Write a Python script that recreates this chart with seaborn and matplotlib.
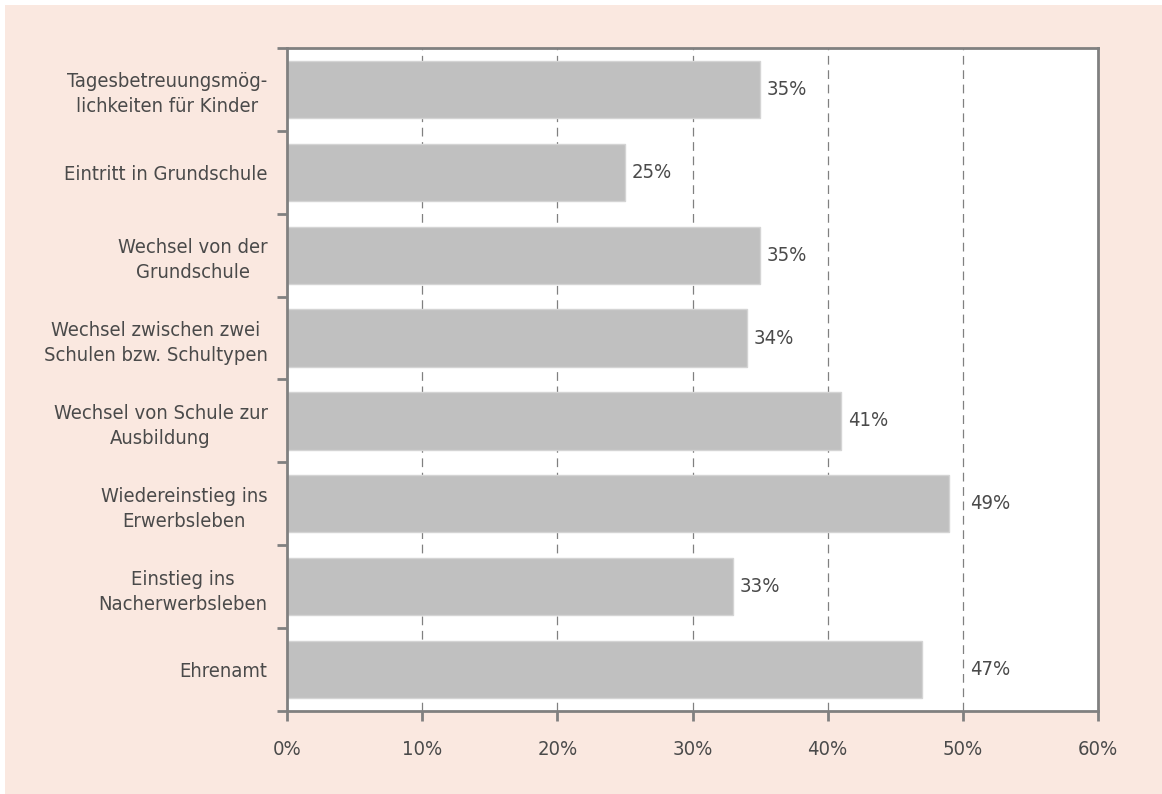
import numpy as np
import pandas as pd
import matplotlib.pyplot as plt
import matplotlib.patches as mpatches
import seaborn as sns

# Data
categories = [
    "Tagesbetreuungsmög-\nlichkeiten für Kinder",
    "Eintritt in Grundschule",
    "Wechsel von der\nGrundschule",
    "Wechsel zwischen zwei\nSchulen bzw. Schultypen",
    "Wechsel von Schule zur\nAusbildung",
    "Wiedereinstieg ins\nErwerbsleben",
    "Einstieg ins\nNacherwerbsleben",
    "Ehrenamt",
]
values = [35, 25, 35, 34, 41, 49, 33, 47]
x_ticks = [0, 10, 20, 30, 40, 50, 60]

df = pd.DataFrame({"Kategorie": categories, "Anteil": values})

sns.set_style("white")
plt.rcParams['font.family'] = ['DejaVu Sans']
plt.rcParams['font.stretch'] = 'condensed'

text_col = "#4a4a4a"
spine_col = "#808080"
panel_col = "#fae8e0"

fig = plt.figure(figsize=(11.62, 7.94), dpi=100, facecolor="white")
# peach panel behind the chart
fig.patches.append(mpatches.Rectangle((5 / 1162, 0), 1, 1 - 5 / 794,
                                      transform=fig.transFigure,
                                      facecolor=panel_col, edgecolor="none", zorder=-10))
ax = fig.add_axes([287 / 1162, 1 - 711 / 794, (1098 - 287) / 1162, (711 - 48) / 794])
ax.set_facecolor("white")

sns.barplot(data=df, x="Anteil", y="Kategorie", color="#c0c0c0", width=0.69,
            edgecolor="#d4d4d4", linewidth=1, saturation=1, ax=ax)

ax.set_xlim(0, 60)
ax.set_ylim(len(categories) - 0.5, -0.5)
ax.set_xticks(x_ticks)
ax.set_xticklabels([f"{t}%" for t in x_ticks])
ax.set_xlabel("")
ax.set_ylabel("")

# dashed gridlines
for t in x_ticks[1:-1]:
    ax.axvline(t, color=spine_col, lw=0.9, ls=(0, (7, 4.5)), zorder=0)

# value labels, nudged past a gridline when they would touch it
for i, v in enumerate(values):
    lx = v + 0.5
    nxt = np.ceil(lx / 10) * 10
    if nxt - lx < 3:
        lx = nxt + 0.5
    ax.text(lx, i, f"{v}%", va="center", ha="left", fontsize=14.5, color=text_col,
            fontstretch="condensed")

for s in ax.spines.values():
    s.set_color(spine_col)
    s.set_linewidth(2)

ax.tick_params(axis="y", which="major", left=False, length=0, pad=14, labelsize=14.5,
               labelcolor=text_col)
ax.set_yticks(np.arange(-0.5, len(categories), 1), minor=True)
ax.tick_params(axis="y", which="minor", left=True, length=7, width=2, color=spine_col,
               direction="out")
ax.tick_params(axis="x", which="major", bottom=True, length=7, width=2, color=spine_col,
               pad=14, labelsize=14.5, labelcolor=text_col, direction="out")
plt.setp(ax.get_yticklabels(), multialignment="center", fontstretch="condensed",
         linespacing=1.4)
plt.setp(ax.get_xticklabels(), fontstretch="condensed")

fig.savefig("out.png", dpi=100, facecolor=fig.get_facecolor())
